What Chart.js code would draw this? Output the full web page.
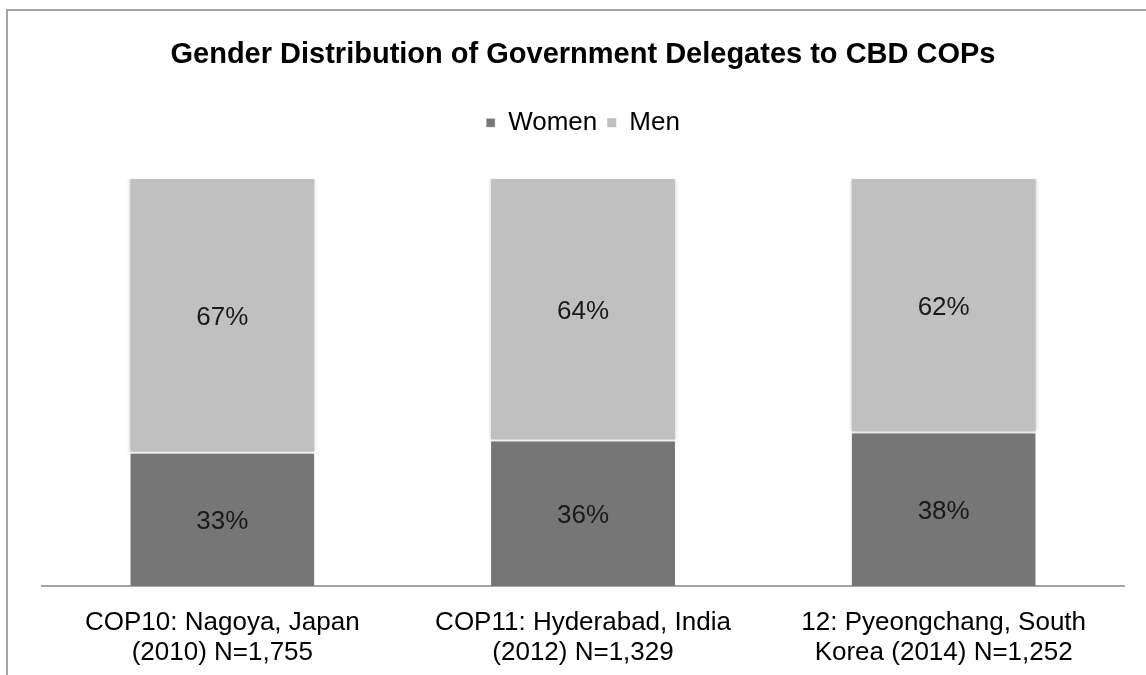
<!DOCTYPE html>
<html>
<head>
<meta charset="utf-8">
<script src="https://cdn.jsdelivr.net/npm/chart.js@4"></script>
<style>
  html, body { margin: 0; padding: 0; background: #fff; }
  #wrap { position: relative; width: 1146px; height: 675px; overflow: hidden; }
  #frame { position: absolute; left: 6px; top: 9px; width: 1200px; height: 800px;
           border-left: 2px solid #a6a6a6; border-top: 2px solid #a6a6a6; }
  canvas { position: absolute; left: 0; top: 0; }
</style>
</head>
<body>
<div id="wrap">
  <div id="frame"></div>
  <!-- canvas runs a little past the bottom edge, like the cropped original -->
  <canvas id="chart" width="1146" height="690"></canvas>
</div>
<script>
const categories = [
    ['COP10: Nagoya, Japan', '(2010) N=1,755'],
    ['COP11: Hyderabad, India', '(2012) N=1,329'],
    ['12: Pyeongchang, South', 'Korea (2014) N=1,252']
];
const women = [33, 36, 38];
const men = [67, 64, 62];

const FONT = '"Liberation Sans", Arial, Helvetica, sans-serif';

// extra gap under the legend
const legendGap = {
    id: 'legendGap',
    beforeInit(chart) {
        const fit = chart.legend.fit;
        chart.legend.fit = function() {
            fit.bind(chart.legend)();
            this.height += 33;
        };
    }
};

// soft shadow round the bars
const barShadow = {
    id: 'barShadow',
    beforeDatasetsDraw(chart) {
        const ctx = chart.ctx;
        ctx.save();
        ctx.shadowColor = 'rgba(0,0,0,0.22)';
        ctx.shadowBlur = 4;
        ctx.shadowOffsetX = 0;
        ctx.shadowOffsetY = 0;
    },
    afterDatasetsDraw(chart) {
        chart.ctx.restore();
    }
};

// percentage labels in the middle of each segment
const valueLabels = {
    id: 'valueLabels',
    afterDatasetsDraw(chart) {
        const ctx = chart.ctx;
        ctx.save();
        ctx.font = '26px ' + FONT;
        ctx.fillStyle = '#1a1a1a';
        ctx.textAlign = 'center';
        ctx.textBaseline = 'middle';
        chart.data.datasets.forEach((ds, i) => {
            chart.getDatasetMeta(i).data.forEach((bar, j) => {
                const p = bar.getProps(['x', 'y', 'base'], true);
                ctx.fillText(ds.data[j] + '%', p.x, (p.y + p.base) / 2 + 3);
            });
        });
        ctx.restore();
    }
};

new Chart(document.getElementById('chart'), {
    type: 'bar',
    data: {
        labels: categories,
        datasets: [{
            label: 'Women',
            data: women,
            backgroundColor: '#767676',
            borderColor: '#ffffff',
            borderWidth: { top: 2, left: 0, right: 0, bottom: 0 },
            borderSkipped: false
        }, {
            label: 'Men',
            data: men,
            backgroundColor: '#c0c0c0',
            borderWidth: 0
        }]
    },
    options: {
        responsive: false,
        animation: false,
        categoryPercentage: 1,
        barPercentage: 0.51,
        layout: { padding: { left: 42, right: 22, top: 0, bottom: 0 } },
        scales: {
            x: {
                stacked: true,
                grid: { display: false, drawTicks: false },
                border: { display: true, color: '#a6a6a6', width: 2 },
                ticks: {
                    color: '#000',
                    padding: 22,
                    font: { family: FONT, size: 26, lineHeight: 1.15 }
                }
            },
            y: {
                stacked: true,
                display: false,
                min: 0,
                max: 100
            }
        },
        plugins: {
            title: {
                display: true,
                text: 'Gender Distribution of Government Delegates to CBD COPs',
                color: '#000',
                font: { family: FONT, size: 29, weight: 'bold', lineHeight: 1.2 },
                padding: { top: 38, bottom: 27 }
            },
            legend: {
                display: true,
                labels: {
                    color: '#000',
                    boxWidth: 9,
                    boxHeight: 9,
                    padding: 10,
                    font: { family: FONT, size: 26 }
                }
            },
            tooltip: { enabled: false }
        }
    },
    plugins: [legendGap, barShadow, valueLabels]
});
</script>
</body>
</html>
